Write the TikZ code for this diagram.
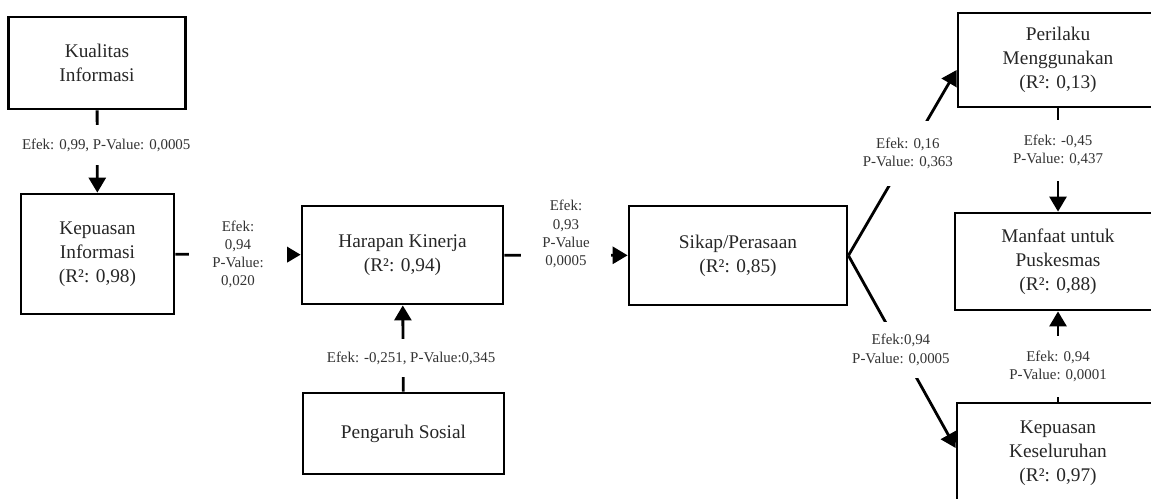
\documentclass[tikz,border=0pt]{standalone}
\usepackage{fontspec}
\setmainfont{Liberation Serif}
\usetikzlibrary{arrows.meta}

\begin{document}
\begin{tikzpicture}[x=.02cm,y=-.02cm,line width=1.6pt,
  konstruk/.style={draw,align=center,inner sep=0pt,text=black!85,
    font=\fontsize{11}{13.6}\selectfont},
  efek/.style={fill=white,align=center,inner sep=0pt,text=black!80,
    font=\fontsize{8.5}{10.4}\selectfont},
  panah/.style={-{Triangle[length=.3cm,width=.34cm]}}]
  \useasboundingbox (0,0) rectangle (1151,498);
  % konstruk
  \node[konstruk,minimum width=3.54cm,minimum height=1.84cm] (kualitas) at (97,63)
    {Kualitas\\Informasi};
  \node[konstruk,minimum width=3.06cm,minimum height=2.4cm] (kepinf) at (97.5,254)
    {Kepuasan\\Informasi\\(R²: 0,98)};
  \node[konstruk,minimum width=4.02cm,minimum height=1.96cm] (harapan) at (402.5,255)
    {Harapan Kinerja\\(R²: 0,94)};
  \node[konstruk,minimum width=4.02cm,minimum height=1.62cm] (pengaruh) at (403.5,433.5)
    {Pengaruh Sosial};
  \node[konstruk,minimum width=4.36cm,minimum height=1.98cm] (sikap) at (738,255.5)
    {Sikap/Perasaan\\(R²: 0,85)};
  \node[konstruk,minimum width=4.0cm,minimum height=1.88cm] (perilaku) at (1058,60)
    {Perilaku\\Menggunakan\\(R²: 0,13)};
  \node[konstruk,minimum width=4.12cm,minimum height=1.94cm] (manfaat) at (1058,261.5)
    {Manfaat untuk\\Puskesmas\\(R²: 0,88)};
  \node[konstruk,minimum width=4.04cm,minimum height=2.0cm] (keseluruhan) at (1058,453)
    {Kepuasan\\Keseluruhan\\(R²: 0,97)};
  % jalur
  \draw[panah] (kualitas) -- node[efek,pos=.42,inner ysep=.28cm,xshift=.18cm]
    {Efek: 0,99, P-Value: 0,0005} (kepinf);
  \draw[panah] (kepinf) -- node[efek,inner xsep=.46cm]
    {Efek:\\0,94\\P-Value:\\0,020} (harapan);
  \draw[panah] (pengaruh) -- node[efek,pos=.39,inner ysep=.26cm,xshift=.16cm]
    {Efek: -0,251, P-Value:0,345} (harapan);
  \draw[panah] (harapan) -- node[efek,inner xsep=.42cm,yshift=.42cm]
    {Efek:\\0,93\\P-Value\\0,0005} (sikap);
  \draw[panah] (sikap.east) -- node[efek,pos=.55,inner ysep=.33cm]
    {Efek: 0,16\\P-Value: 0,363} ([yshift=-.2cm]perilaku.west);
  \draw[panah] (sikap.east) -- node[efek,pos=.49,inner ysep=.25cm]
    {Efek:0,94\\P-Value: 0,0005} ([yshift=.1cm]keseluruhan.west);
  \draw[panah] (perilaku) -- node[efek,pos=.41,inner ysep=.3cm]
    {Efek: -0,45\\P-Value: 0,437} (manfaat);
  \draw[panah] (keseluruhan) -- node[efek,pos=.39,inner ysep=.3cm]
    {Efek: 0,94\\P-Value: 0,0001} (manfaat);
\end{tikzpicture}
\end{document}
